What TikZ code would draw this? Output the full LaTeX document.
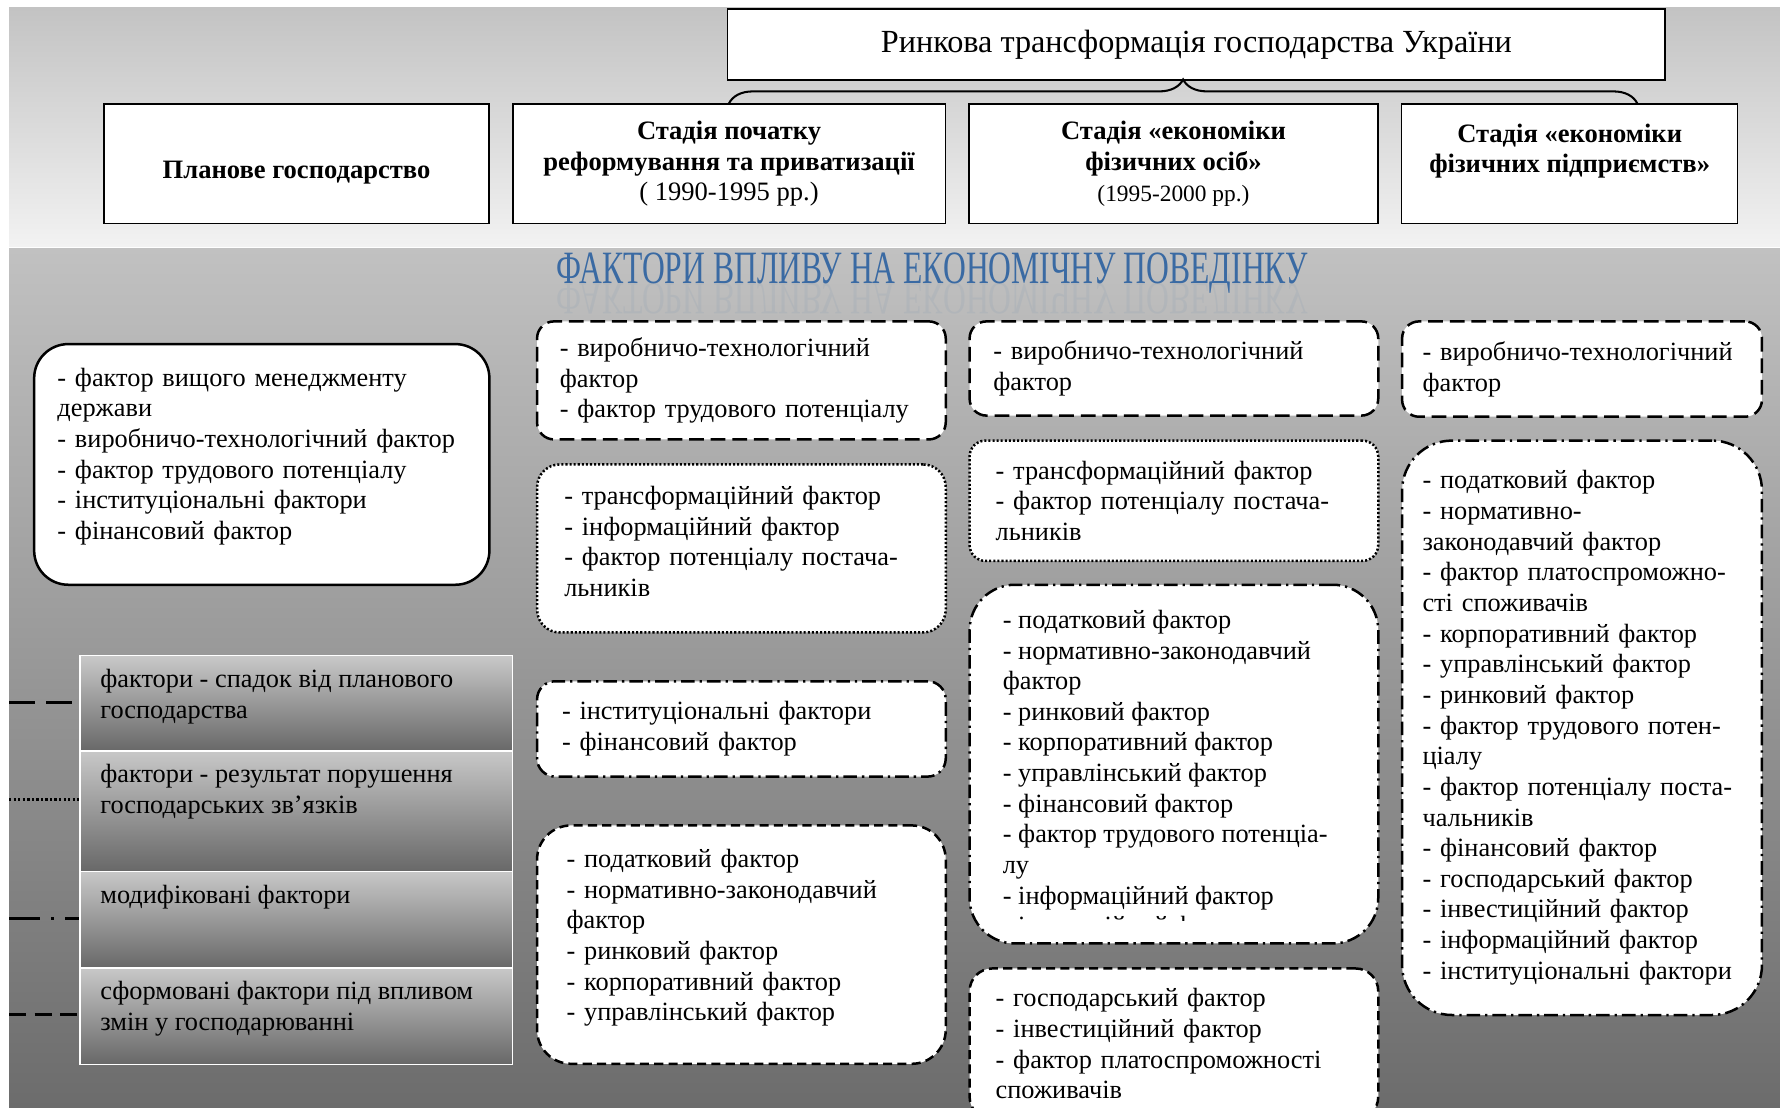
\documentclass[tikz,border=0pt]{standalone}
\usepackage{fontspec}
\setmainfont{Liberation Serif}
\usepackage{graphicx}
\usepackage{tikz}
\usetikzlibrary{calc}
\usetikzlibrary{positioning}
\usetikzlibrary{decorations.pathreplacing}
\definecolor{headblue}{RGB}{58,106,163}
\definecolor{bandtop}{RGB}{195,195,195}
\definecolor{bandlight}{RGB}{242,242,242}
\definecolor{lowtop}{RGB}{193,193,193}
\definecolor{lowmid}{RGB}{163,163,163}
\definecolor{lowbot}{RGB}{108,108,108}
\definecolor{celltop}{RGB}{200,200,200}
\definecolor{cellbot}{RGB}{104,104,104}
\newcommand{\boxfnt}{\fontsize{11.6}{13.5}\selectfont}
\newcommand{\stagefnt}{\fontsize{11.7}{13.5}\selectfont\bfseries}

\begin{document}
\begin{tikzpicture}[x=0.5pt, y=-0.5pt,
    titlebox/.style={draw, fill=white, line width=0.8pt, anchor=north west, font=\fontsize{14.2}{16}\selectfont,
                     minimum width=413pt, minimum height=31.5pt},
    stage/.style={draw, fill=white, line width=0.7pt, align=center, anchor=north west, font=\stagefnt,
                  minimum height=52.5pt, inner sep=2pt},
    fbox/.style={draw, fill=white, line width=1.1pt, align=left, anchor=north west, inner ysep=0pt, font=\boxfnt},
    inherited/.style={dash pattern=on 6.5pt off 3pt},
    disrupted/.style={dash pattern=on 0.9pt off 0.9pt},
    modified/.style={dash pattern=on 6pt off 2.2pt on 1pt off 2.2pt},
    formed/.style={dash pattern=on 4pt off 2.3pt},
    legcell/.style={draw=white, line width=0.6pt, top color=celltop, bottom color=cellbot, anchor=north west,
                    minimum width=190.5pt, inner sep=0pt},
    legtext/.style={anchor=north west, align=left, font=\boxfnt, inner xsep=9pt, inner ysep=6pt},
    keyline/.style={line width=1.3pt}]
  \useasboundingbox (0,0) rectangle (1568,976);
  \clip (0,0) rectangle (1568,976);
  \shade[top color=bandtop, bottom color=bandlight]                  (8,  7) rectangle (1568,217);
  \shade[top color=lowtop, middle color=lowmid, bottom color=lowbot] (8,219) rectangle (1568,976);

  \node[titlebox]                      (title) at ( 640, 7) {Ринкова трансформація господарства України};
  \node[stage, minimum width=169.5pt, text height=15.5pt, text depth=2.6pt] (s1) at (91,91) {Планове господарство};
  \node[stage, minimum width=190.5pt] (s2)    at ( 451,91) {Стадія початку\\реформування та приватизації\\{\mdseries ( 1990-1995 рр.)}};
  \node[stage, minimum width=180pt]   (s3)    at ( 853,91) {Стадія «економіки\\фізичних осіб»\\{\mdseries\fontsize{10.3}{12}\selectfont (1995-2000 рр.)}};
  \node[stage, minimum width=148pt]   (s4)    at (1234,91) {Стадія «економіки\\фізичних підприємств»\\~};
  \coordinate (brR) at ($(s4.north west)!0.7!(s4.north east)$);
  \draw[decorate, decoration={brace, amplitude=10.5pt}, line width=0.9pt] (s2.north) -- (brR);

  \node[text=headblue] (head) at (821,241)
       {\resizebox{331pt}{13.5pt}{\fontsize{16}{18}\selectfont ФАКТОРИ ВПЛИВУ НА ЕКОНОМІЧНУ ПОВЕДІНКУ}};
  \node[text=headblue, text opacity=0.07, anchor=base] (headrefl) at (head.base)
       {\scalebox{1}[-1]{\resizebox{331pt}{13.5pt}{\fontsize{16}{18}\selectfont ФАКТОРИ ВПЛИВУ НА ЕКОНОМІЧНУ ПОВЕДІНКУ}}};

  \node[fbox, solid, rounded corners=15pt, minimum width=200.5pt, minimum height=106pt,
        text width=180pt, inner xsep=10.25pt, text depth=77pt] (plan) at (29,302)
       {- фактор вищого менеджменту\\держави\\- виробничо-технологічний фактор\\- фактор трудового потенціалу\\- інституціональні фактори\\- фінансовий фактор};

  \node[fbox, inherited, rounded corners=7.5pt, minimum width=180pt, minimum height=52pt,
        text width=160pt, inner xsep=10pt] (b21) at (472,282)
       {- виробничо-технологічний\\фактор\\- фактор трудового потенціалу};
  \node[fbox, disrupted, rounded corners=10pt, minimum width=180pt, minimum height=74pt,
        text width=156pt, inner xsep=12pt, text depth=46.7pt] (b22) at (472,408)
       {- трансформаційний фактор\\- інформаційний фактор\\- фактор потенціалу постача-\\льників};
  \node[fbox, modified, rounded corners=8pt, minimum width=180pt, minimum height=42pt,
        text width=158pt, inner xsep=11pt] (b23) at (472,599)
       {- інституціональні фактори\\- фінансовий фактор};
  \node[fbox, formed, rounded corners=15pt, minimum width=180pt, minimum height=105pt,
        text width=154pt, inner xsep=13pt, text depth=76pt] (b24) at (472,726)
       {- податковий фактор\\- нормативно-законодавчий\\фактор\\- ринковий фактор\\- корпоративний фактор\\- управлінський фактор};

  \node[fbox, inherited, rounded corners=7.5pt, minimum width=180pt, minimum height=41.5pt,
        text width=159pt, inner xsep=10.5pt] (b31) at (853,282)
       {- виробничо-технологічний\\фактор};
  \node[fbox, disrupted, rounded corners=7pt, minimum width=180pt, minimum height=53pt,
        text width=157pt, inner xsep=11.5pt] (b32) at (853,387)
       {- трансформаційний фактор\\- фактор потенціалу постача-\\льників};
  \node[fbox, modified, rounded corners=20pt, minimum width=180pt, minimum height=158pt] (b33) at (853,514) {};
  \begin{scope}
    \clip (b33.north west) rectangle ($(b33.south east)+(0,-21)$);
    \node[anchor=north west, align=left, font=\boxfnt, inner sep=0pt] (b33txt) at (883,537)
         {- податковий фактор\\- нормативно-законодавчий\\фактор\\- ринковий фактор\\- корпоративний фактор\\- управлінський фактор\\- фінансовий фактор\\- фактор трудового потенціа-\\лу\\- інформаційний фактор\\- інноваційний фактор};
  \end{scope}
  \node[fbox, formed, rounded corners=10pt, minimum width=180pt, minimum height=66.5pt,
        text width=157pt, inner xsep=11.5pt] (b34) at (853,852)
       {- господарський фактор\\- інвестиційний фактор\\- фактор платоспроможності\\споживачів};

  \node[fbox, inherited, rounded corners=7.5pt, minimum width=158.5pt, minimum height=42pt,
        text width=140.5pt, inner xsep=9pt] (b41) at (1234,282)
       {- виробничо-технологічний\\фактор};
  \node[fbox, modified, rounded corners=22pt, minimum width=158.5pt, minimum height=253pt,
        text width=140.5pt, inner xsep=9pt] (b42) at (1234,387)
       {- податковий фактор\\- нормативно-\\законодавчий фактор\\- фактор платоспроможно-\\сті споживачів\\- корпоративний фактор\\- управлінський фактор\\- ринковий фактор\\- фактор трудового потен-\\ціалу\\- фактор потенціалу поста-\\чальників\\- фінансовий фактор\\- господарський фактор\\- інвестиційний фактор\\- інформаційний фактор\\- інституціональні фактори};

  \node[legcell, minimum height=42pt]   (leg1) at (70,577) {};
  \node[legcell, minimum height=53pt]   (leg2) at (70,661) {};
  \node[legcell, minimum height=42.5pt] (leg3) at (70,767) {};
  \node[legcell, minimum height=42.5pt] (leg4) at (70,852) {};
  \node[legtext] (lt1) at (leg1.north west) {фактори - спадок від планового\\господарства};
  \node[legtext] (lt2) at (leg2.north west) {фактори - результат порушення\\господарських зв’язків};
  \node[legtext] (lt3) at (leg3.north west) {модифіковані фактори};
  \node[legtext] (lt4) at (leg4.north west) {сформовані фактори під впливом\\змін у господарюванні};

  \coordinate (k1) at (8,619);
  \coordinate (k2) at (8,704);
  \coordinate (k3) at (8,809);
  \coordinate (k4) at (8,894);
  \draw[keyline, dash pattern=on 11.5pt off 4.8pt]                   (k1) -- (k1 -| leg1.west);
  \draw[keyline, dash pattern=on 1pt off 1pt]                        (k2) -- (k2 -| leg2.west);
  \draw[keyline, dash pattern=on 13.5pt off 5pt on 1.2pt off 5pt]    (k3) -- (k3 -| leg3.west);
  \draw[keyline, dash pattern=on 7.5pt off 3.8pt]                    (k4) -- (k4 -| leg4.west);
\end{tikzpicture}
\end{document}
